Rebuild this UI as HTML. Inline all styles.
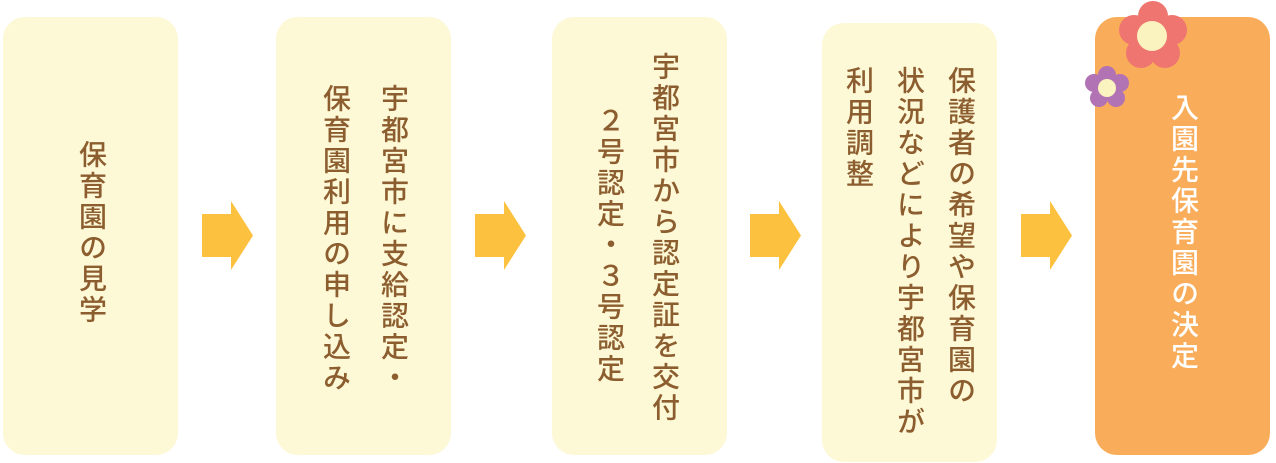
<!DOCTYPE html>
<html><head><meta charset="utf-8"><style>
body{margin:0;width:1276px;height:463px;background:#fff;position:relative;overflow:hidden;font-family:"Liberation Sans","Noto Sans CJK JP",sans-serif}
.b{position:absolute;width:175px;border-radius:22px;background:#fdf8d6}
.c{position:absolute;writing-mode:vertical-rl;font-size:28px;font-weight:500;letter-spacing:3px;color:#8c5d2e;line-height:1;white-space:nowrap;transform:translateX(-50%)}
.a{position:absolute;top:201px;width:52px;height:69px}
</style></head><body>
<div class="b" style="left:3px;top:17px;height:438px"></div>
<div class="b" style="left:276px;top:17px;height:438px"></div>
<div class="b" style="left:552px;top:17px;height:438px"></div>
<div class="b" style="left:822px;top:23px;height:439px"></div>
<div class="b" style="left:1095px;top:17px;height:438px;background:#f9ac5a"></div>

<svg class="a" style="left:201px" viewBox="0 0 52 69"><polygon points="1,13 30,13 30,0 52,34.5 30,69 30,56 1,56" fill="#fcc23f"/></svg>
<svg class="a" style="left:474px" viewBox="0 0 52 69"><polygon points="1,13 30,13 30,0 52,34.5 30,69 30,56 1,56" fill="#fcc23f"/></svg>
<svg class="a" style="left:749px" viewBox="0 0 52 69"><polygon points="1,13 30,13 30,0 52,34.5 30,69 30,56 1,56" fill="#fcc23f"/></svg>
<svg class="a" style="left:1020px" viewBox="0 0 52 69"><polygon points="1,13 30,13 30,0 52,34.5 30,69 30,56 1,56" fill="#fcc23f"/></svg>

<div class="c" style="left:91px;top:140px">保育園の見学</div>
<div class="c" style="left:393px;top:84px">宇都宮市に支給認定・</div>
<div class="c" style="left:335px;top:84px">保育園利用の申し込み</div>
<div class="c" style="left:664px;top:52px">宇都宮市から認定証を交付</div>
<div class="c" style="left:609px;top:106px">２号認定・３号認定</div>
<div class="c" style="left:960px;top:66px">保護者の希望や保育園の</div>
<div class="c" style="left:909px;top:66px">状況などにより宇都宮市が</div>
<div class="c" style="left:858px;top:66px">利用調整</div>
<div class="c" style="left:1183px;top:93px;color:#fff">入園先保育園の決定</div>

<svg style="position:absolute;left:1080px;top:0" width="120" height="120" viewBox="0 0 120 120">
<g fill="#ef7670">
<circle cx="73" cy="16" r="15"/><circle cx="92" cy="30" r="15"/><circle cx="85" cy="53" r="15"/><circle cx="61" cy="53" r="15"/><circle cx="54" cy="30" r="15"/><circle cx="72" cy="36" r="18"/>
</g>
<circle cx="72" cy="36" r="15" fill="#fbf3bf"/>
<g fill="#b273b4">
<circle cx="27" cy="75" r="9"/><circle cx="40" cy="83" r="9"/><circle cx="36" cy="98" r="9"/><circle cx="19" cy="98" r="9"/><circle cx="14" cy="83" r="9"/><circle cx="27" cy="88" r="11"/>
</g>
<circle cx="27" cy="88" r="9" fill="#fbf3bf"/>
</svg>
</body></html>
